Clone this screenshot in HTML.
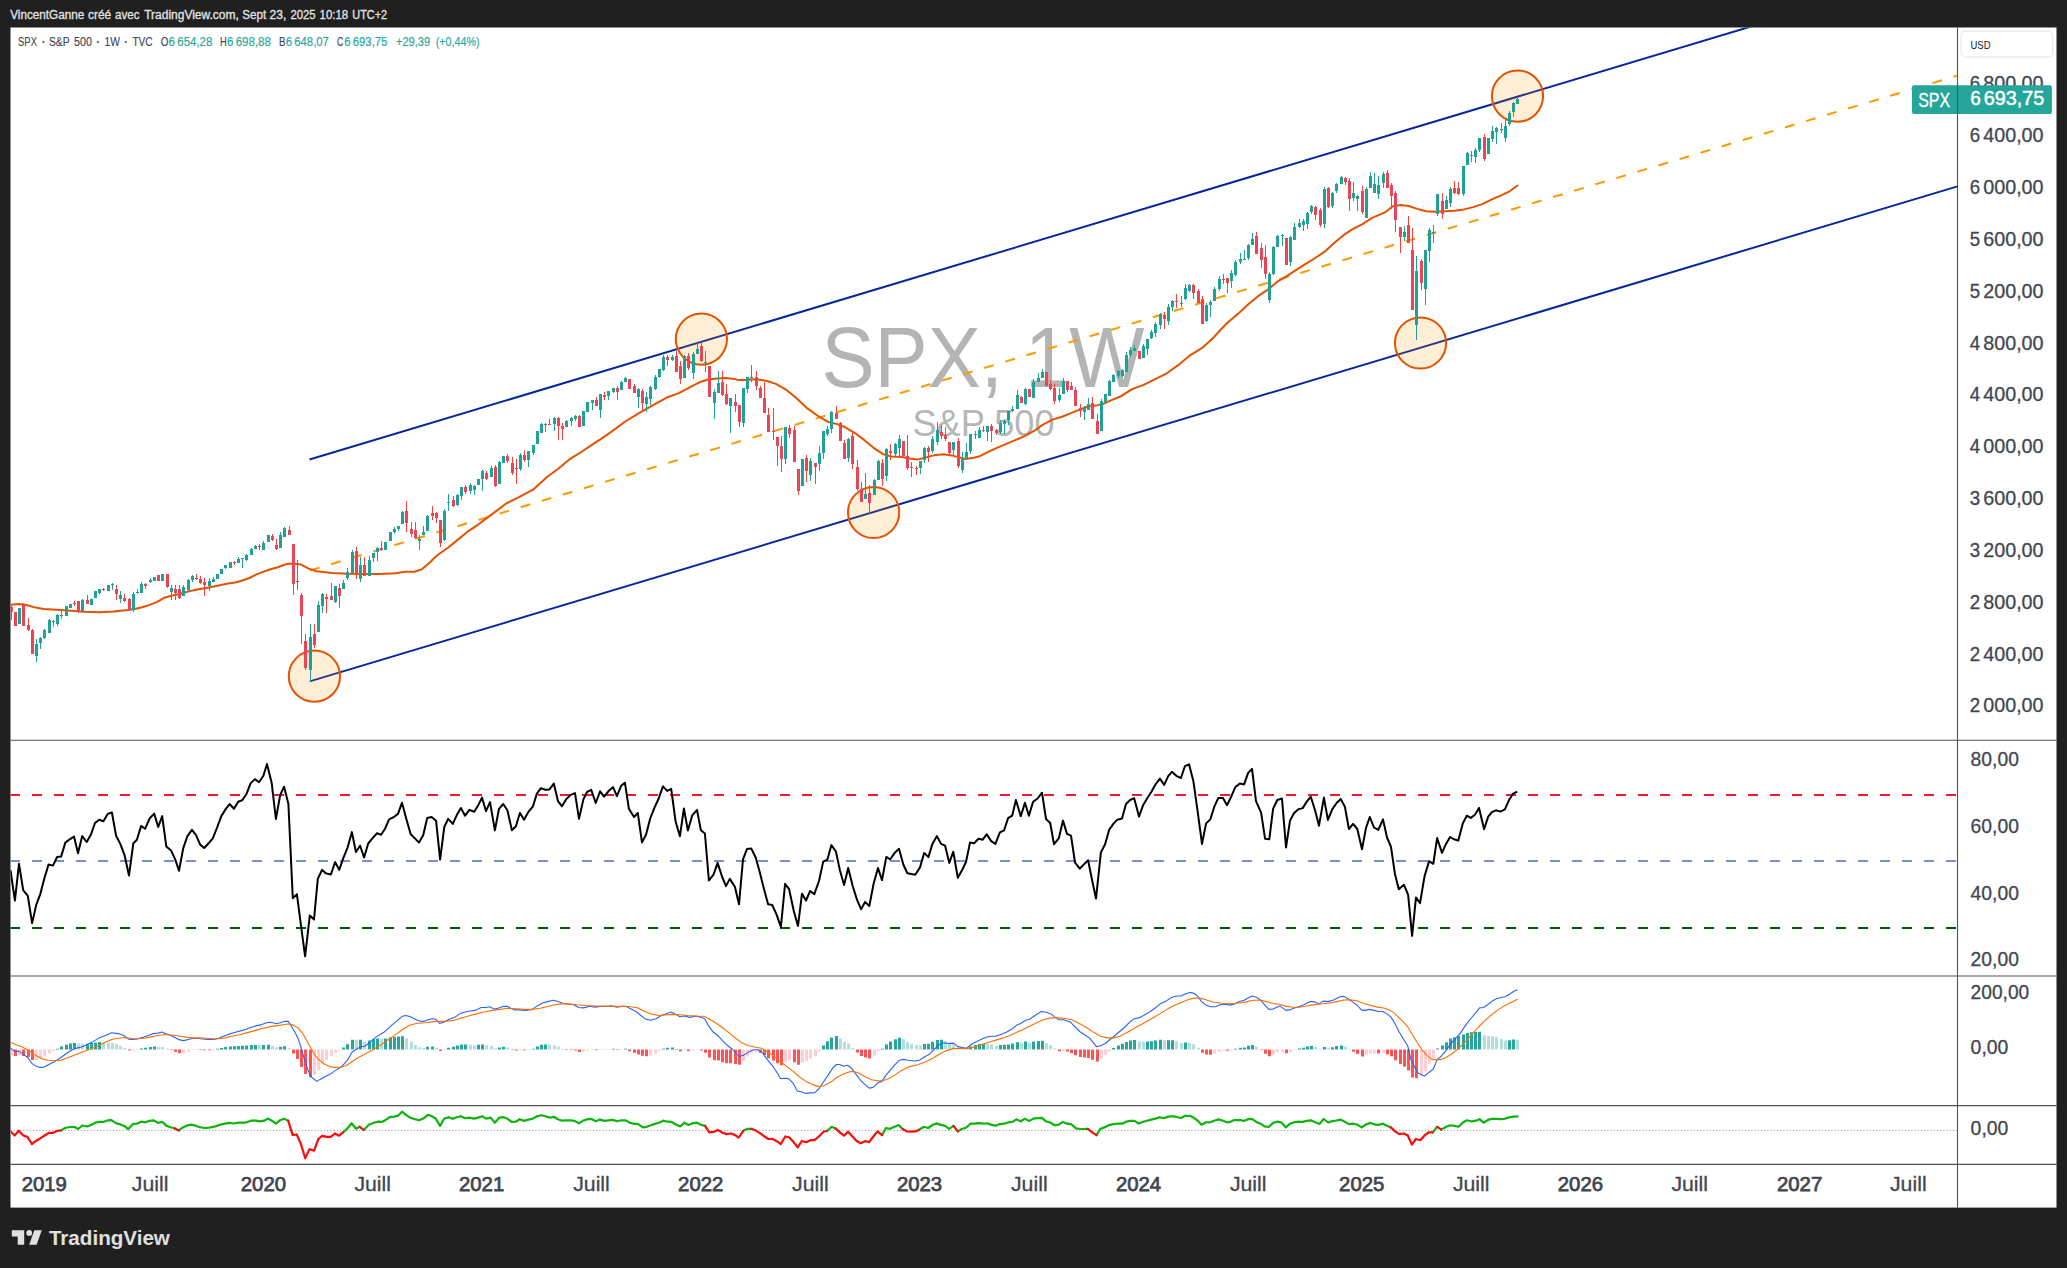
<!DOCTYPE html>
<html lang="fr"><head><meta charset="utf-8"><title>SPX 1W - TradingView</title>
<style>html,body{margin:0;padding:0;background:#202020;}body{width:2067px;height:1268px;overflow:hidden;font-family:"Liberation Sans",Arial,sans-serif}svg{display:block}</style>
</head><body>
<svg width="2067" height="1268" viewBox="0 0 2067 1268" font-family="Liberation Sans, Arial, sans-serif">
<rect width="2067" height="1268" fill="#202020"/>
<rect x="10.5" y="27.5" width="2046.0" height="1180.1" fill="#fff"/>
<text y="18.8" font-size="12" fill="#e4e4e4" stroke="#e4e4e4" stroke-width="0.3"><tspan x="10.2" textLength="74.0" lengthAdjust="spacingAndGlyphs">VincentGanne</tspan><tspan> </tspan><tspan x="88.0" textLength="23.2" lengthAdjust="spacingAndGlyphs">créé</tspan><tspan> </tspan><tspan x="115.1" textLength="24.5" lengthAdjust="spacingAndGlyphs">avec</tspan><tspan> </tspan><tspan x="144.2" textLength="94.6" lengthAdjust="spacingAndGlyphs">TradingView.com,</tspan><tspan> </tspan><tspan x="242.3" textLength="23.8" lengthAdjust="spacingAndGlyphs">Sept</tspan><tspan> </tspan><tspan x="269.6" textLength="16.8" lengthAdjust="spacingAndGlyphs">23,</tspan><tspan> </tspan><tspan x="290.4" textLength="25.0" lengthAdjust="spacingAndGlyphs">2025</tspan><tspan> </tspan><tspan x="319.6" textLength="28.6" lengthAdjust="spacingAndGlyphs">10:18</tspan><tspan> </tspan><tspan x="352.3" textLength="34.8" lengthAdjust="spacingAndGlyphs">UTC+2</tspan></text>
<defs><clipPath id="cp"><rect x="10.5" y="27.5" width="1947.0" height="1137.0"/></clipPath></defs>
<g clip-path="url(#cp)">
<text x="983" y="386.6" font-size="85" fill="#b4b4b4" text-anchor="middle" textLength="323" lengthAdjust="spacingAndGlyphs">SPX, 1W</text>
<text x="983.5" y="436" font-size="37" fill="#b6b6b6" text-anchor="middle" textLength="142" lengthAdjust="spacingAndGlyphs">S&amp;P 500</text>
<line x1="309.5" y1="459.5" x2="1800" y2="11.8" stroke="#05279a" stroke-width="2"/>
<line x1="309.7" y1="681.4" x2="1957.5" y2="186.4" stroke="#05279a" stroke-width="2"/>
<line x1="310" y1="570.5" x2="1957.5" y2="75.6" stroke="#ff9800" stroke-width="2" stroke-dasharray="10 12"/>
<circle cx="314.4" cy="676.2" r="25.6" fill="#ff9800" fill-opacity="0.16" stroke="#e65100" stroke-width="2"/>
<circle cx="701.4" cy="339.1" r="25.6" fill="#ff9800" fill-opacity="0.16" stroke="#e65100" stroke-width="2"/>
<circle cx="873.6" cy="512.5" r="25.6" fill="#ff9800" fill-opacity="0.16" stroke="#e65100" stroke-width="2"/>
<circle cx="1420.5" cy="343.0" r="25.6" fill="#ff9800" fill-opacity="0.16" stroke="#e65100" stroke-width="2"/>
<circle cx="1517.5" cy="96.1" r="25.6" fill="#ff9800" fill-opacity="0.16" stroke="#e65100" stroke-width="2"/>
<polyline points="10.6,604.8 18.5,604.1 25.6,604.8 35.5,607.6 44,609 56.8,609.7 71,610.7 85.2,611.7 99.4,612.2 113.6,611.4 127.8,610 134.9,609 142,607.2 149.1,605.1 157.1,601.8 164.2,597.8 171.3,595.7 178.4,594.3 185.5,592.2 192.6,590.4 199.7,589 206.8,587.9 213.9,586.5 221,585.1 228.1,583.6 235.2,582.5 242.3,580.5 249.4,578 256.5,574.4 263.6,571.6 270.7,569.2 277.8,567.3 284.9,564.5 289.1,563.8 292.9,563.4 300.8,564.4 308.7,568.6 316.5,571.3 332.3,573 348.1,573.8 363.9,574.1 379.6,574.1 395.4,573.3 404.9,571.8 414.3,571.8 422.2,569.1 430.1,562.3 436.4,556 440,553.2 447.9,547.7 455.8,541.4 468.4,531.1 477.9,524.8 490.5,515.4 506.2,503.5 518.9,497.2 533.1,489.7 547.3,476.7 558.3,468.8 569.3,459.4 582,451.5 591.4,445.2 600,439.6 612.6,430.9 625.2,421.5 639.4,412.8 653.6,404.9 666.2,397.8 678.9,393.1 691.5,386.4 700.9,381.7 707.3,379.7 716.7,378.5 726.2,378.1 734.1,378.9 738.8,380.1 745.1,380.1 754.6,379.3 760,379.7 767.9,381.2 775.8,383.9 786.8,390.2 796.3,398.1 807.3,408.4 818.4,416.2 827.8,421.8 837.3,424.1 845.2,427.3 854.6,432.8 864.1,439.9 873.6,447.8 883,454.1 890.9,456.5 902,456.9 909.8,458.5 917.7,459.6 927.9,456.9 935.8,454.9 943.7,454.3 951.5,455.4 959.4,457.4 965.7,459 973.6,457.7 979.9,456.2 987.8,452.2 995.7,448.3 1005.2,444.3 1014.6,440.4 1024.1,436.4 1033.6,431.2 1043,424.6 1052.5,419.6 1062,416.7 1069.8,413.6 1077.7,410.4 1087.9,406.4 1095.8,405.6 1103.7,403.7 1111.5,400.1 1121,396.2 1132.1,389.1 1143.1,385.1 1155.7,378.8 1166.8,373.3 1177.8,365.4 1190.4,355.1 1203,347.3 1212.5,338.6 1222,328.3 1228.3,322 1239.5,312.5 1248.9,303.8 1258.4,295.9 1267.9,289.6 1277.3,281.7 1286.8,276.2 1296.2,269.9 1305.7,263.9 1315.2,258 1324.6,251.7 1334.1,243.1 1343.6,235.2 1353,228.9 1362.5,224.1 1372,217.8 1381.4,213.9 1385,212.3 1392.9,206.3 1400.8,205 1408.7,206 1416.5,208.6 1426,211.3 1435.5,211.8 1444.9,211.3 1454.4,210.7 1463.9,209.4 1473.3,207.1 1482.8,203.9 1492.3,199.2 1501.7,195.2 1509.6,191.3 1517.5,185.5" fill="none" stroke="#e65100" stroke-width="2" stroke-linejoin="round" stroke-linecap="round"/>
<path d="M19.5 608V624M36.5 639V662M40.5 637V649M44.5 629V639M49.5 619V633M53.5 620V627M57.5 614V626M61.5 611V619M66.5 606V616M70.5 604V608M82.5 599V611M91.5 599V605M95.5 591V598M99.5 589V594M108.5 585V591M112.5 583V590M120.5 591V603M133.5 592V612M137.5 589V594M141.5 582V593M150.5 578V583M154.5 577V581M162.5 574V581M171.5 585V600M183.5 585V596M188.5 579V591M192.5 575V582M209.5 578V591M213.5 577V582M217.5 574V579M221.5 569V574M225.5 565V569M230.5 562V568M238.5 557V563M242.5 558V568M246.5 554V561M251.5 548V555M255.5 545V549M263.5 541V550M268.5 535V542M280.5 532V548M284.5 527V537M310.5 624V682M318.5 601V632M322.5 593V613M335.5 586V603M343.5 580V589M347.5 568V580M352.5 550V573M360.5 557V582M369.5 556V576M373.5 553V562M377.5 547V561M385.5 542V550M390.5 532V541M394.5 527V534M398.5 526V531M402.5 511V524M419.5 535V550M423.5 526V535M427.5 515V531M444.5 509V541M448.5 494V511M457.5 494V506M461.5 487V500M470.5 483V494M474.5 485V495M478.5 479V485M482.5 470V491M491.5 466V477M499.5 461V484M503.5 456V463M520.5 453V471M528.5 451V467M533.5 445V455M537.5 431V444M541.5 423V433M545.5 423V432M554.5 417V431M566.5 420V427M571.5 417V426M575.5 415V421M583.5 411V426M587.5 402V412M592.5 400V410M600.5 394V418M608.5 391V400M613.5 388V393M621.5 381V390M625.5 377V382M638.5 388V408M646.5 392V412M650.5 386V405M655.5 375V390M659.5 369V378M663.5 355V371M672.5 355V361M684.5 355V378M693.5 352V379M697.5 343V354M705.5 351V372M714.5 389V419M718.5 371V393M730.5 398V433M743.5 388V427M747.5 377V393M751.5 365V382M785.5 427V464M802.5 459V486M810.5 458V481M819.5 446V471M823.5 431V459M827.5 426V436M831.5 411V433M848.5 438V462M865.5 473V499M874.5 479V495M878.5 460V480M886.5 448V481M895.5 443V456M899.5 435V456M920.5 461V474M924.5 447V463M932.5 436V453M937.5 422V445M953.5 442V456M962.5 452V473M966.5 443V459M970.5 434V454M975.5 431V439M979.5 427V438M987.5 426V441M1000.5 420V434M1004.5 420V434M1008.5 411V425M1012.5 406V412M1017.5 390V409M1025.5 388V405M1033.5 379V398M1038.5 373V382M1042.5 369V378M1059.5 388V402M1063.5 378V394M1084.5 406V420M1088.5 398V410M1101.5 399V431M1105.5 394V402M1109.5 380V396M1113.5 374V382M1118.5 370V378M1122.5 369V377M1126.5 352V372M1130.5 347V357M1134.5 345V351M1143.5 344V358M1147.5 339V355M1151.5 330V339M1155.5 322V337M1160.5 313V329M1168.5 304V325M1172.5 300V311M1181.5 296V307M1185.5 284V300M1189.5 284V292M1206.5 303V322M1210.5 300V317M1214.5 287V301M1219.5 276V291M1231.5 270V288M1235.5 260V276M1240.5 253V264M1244.5 250V260M1248.5 244V260M1252.5 233V245M1269.5 272V303M1273.5 246V275M1277.5 235V247M1282.5 234V246M1290.5 236V266M1294.5 223V240M1299.5 219V228M1303.5 219V231M1307.5 212V229M1311.5 205V214M1324.5 187V228M1332.5 192V208M1336.5 183V193M1341.5 176V184M1353.5 182V201M1357.5 195V211M1366.5 187V218M1370.5 172V188M1374.5 173V193M1378.5 176V199M1383.5 172V188M1404.5 226V241M1416.5 256V340M1425.5 250V305M1429.5 228V262M1433.5 225V243M1437.5 194V216M1446.5 196V209M1450.5 187V207M1463.5 166V196M1467.5 152V165M1471.5 151V162M1475.5 148V163M1479.5 138V152M1488.5 138V154M1492.5 126V142M1496.5 127V144M1501.5 123V133M1505.5 120V142M1509.5 111V126M1513.5 102V117M1517.5 98V104" stroke="#1fa295" stroke-width="1" fill="none"/>
<path d="M11.5 606V620M15.5 612V626M23.5 603V626M28.5 618V631M32.5 629V654M74.5 601V606M78.5 601V613M87.5 595V604M103.5 588V591M116.5 585V600M124.5 594V602M129.5 598V610M145.5 583V589M158.5 575V581M167.5 574V588M175.5 585V600M179.5 585V599M196.5 574V580M200.5 576V584M204.5 578V596M234.5 561V565M259.5 544V550M272.5 534V541M276.5 539V550M289.5 526V535M293.5 544V595M297.5 560V590M301.5 593V644M305.5 634V670M314.5 624V648M326.5 594V613M331.5 583V600M339.5 584V608M356.5 547V579M364.5 557V576M381.5 541V551M406.5 501V532M411.5 522V537M415.5 522V539M432.5 506V520M436.5 512V523M440.5 520V547M453.5 496V507M465.5 485V494M486.5 471V480M495.5 465V487M507.5 454V463M512.5 457V475M516.5 459V484M524.5 450V462M549.5 419V425M558.5 417V440M562.5 423V440M579.5 415V427M596.5 397V406M604.5 392V400M617.5 386V400M629.5 379V389M634.5 384V393M642.5 389V410M667.5 355V366M676.5 351V372M680.5 361V384M688.5 353V370M701.5 342V362M709.5 366V397M722.5 371V396M726.5 384V405M735.5 394V412M739.5 405V427M756.5 371V390M760.5 386V398M764.5 382V413M768.5 408V432M773.5 408V440M777.5 437V466M781.5 436V472M789.5 425V438M794.5 426V462M798.5 469V495M806.5 455V482M815.5 463V484M836.5 406V419M840.5 422V441M844.5 440V459M852.5 432V469M857.5 460V491M861.5 482V502M869.5 485V514M882.5 459V486M890.5 444V460M903.5 441V456M907.5 435V470M911.5 462V477M916.5 466V475M928.5 446V462M941.5 425V439M945.5 427V441M949.5 442V455M958.5 438V468M983.5 426V432M991.5 424V442M996.5 429V435M1021.5 396V403M1029.5 389V397M1046.5 372V386M1050.5 380V390M1054.5 384V404M1067.5 381V392M1071.5 382V390M1075.5 387V406M1080.5 404V417M1092.5 397V419M1097.5 414V434M1139.5 351V359M1164.5 312V329M1176.5 294V308M1193.5 284V299M1198.5 289V303M1202.5 296V324M1223.5 274V284M1227.5 278V293M1256.5 232V254M1261.5 243V268M1265.5 245V279M1286.5 238V265M1315.5 206V220M1320.5 208V227M1328.5 187V208M1345.5 177V185M1349.5 178V211M1362.5 186V214M1387.5 170V188M1391.5 183V209M1395.5 191V232M1400.5 227V253M1408.5 216V243M1412.5 228V310M1421.5 259V290M1442.5 193V219M1454.5 181V194M1458.5 182V195M1484.5 134V161" stroke="#f44336" stroke-width="1" fill="none"/>
<path d="M18 608h3V624h-3zM35 644h3V656h-3zM39 638h3V643h-3zM43 630h3V638h-3zM48 620h3V633h-3zM52 621h3V622h-3zM56 615h3V624h-3zM60 615h3V616h-3zM65 606h3V616h-3zM69 604h3V608h-3zM81 600h3V611h-3zM90 599h3V605h-3zM94 591h3V598h-3zM98 589h3V593h-3zM107 585h3V591h-3zM111 584h3V585h-3zM119 595h3V599h-3zM132 594h3V610h-3zM136 592h3V593h-3zM140 584h3V593h-3zM149 580h3V582h-3zM153 577h3V581h-3zM161 574h3V581h-3zM170 588h3V592h-3zM182 587h3V596h-3zM187 580h3V590h-3zM191 576h3V580h-3zM208 581h3V586h-3zM212 579h3V582h-3zM216 574h3V579h-3zM220 569h3V574h-3zM224 565h3V568h-3zM229 562h3V568h-3zM237 559h3V563h-3zM241 558h3V559h-3zM245 555h3V560h-3zM250 549h3V555h-3zM254 546h3V549h-3zM262 543h3V550h-3zM267 535h3V542h-3zM279 535h3V548h-3zM283 528h3V537h-3zM309 637h3V670h-3zM317 605h3V632h-3zM321 594h3V606h-3zM334 586h3V602h-3zM342 583h3V589h-3zM346 572h3V578h-3zM351 552h3V573h-3zM359 565h3V579h-3zM368 560h3V576h-3zM372 553h3V558h-3zM376 548h3V552h-3zM384 542h3V550h-3zM389 532h3V541h-3zM393 529h3V532h-3zM397 526h3V529h-3zM401 512h3V524h-3zM418 539h3V541h-3zM422 532h3V535h-3zM426 516h3V531h-3zM443 511h3V540h-3zM447 502h3V503h-3zM456 495h3V505h-3zM460 487h3V496h-3zM469 485h3V491h-3zM473 486h3V490h-3zM477 479h3V485h-3zM481 471h3V479h-3zM490 468h3V477h-3zM498 462h3V484h-3zM502 456h3V463h-3zM519 455h3V469h-3zM527 451h3V460h-3zM532 445h3V453h-3zM536 431h3V444h-3zM540 424h3V433h-3zM544 424h3V425h-3zM553 418h3V424h-3zM565 421h3V427h-3zM570 418h3V421h-3zM574 416h3V419h-3zM582 411h3V426h-3zM586 402h3V412h-3zM591 400h3V403h-3zM599 394h3V410h-3zM607 391h3V396h-3zM612 388h3V392h-3zM620 382h3V390h-3zM624 378h3V382h-3zM637 389h3V397h-3zM645 397h3V404h-3zM649 387h3V399h-3zM654 377h3V389h-3zM658 369h3V377h-3zM662 357h3V370h-3zM671 357h3V360h-3zM683 356h3V378h-3zM692 354h3V373h-3zM696 349h3V354h-3zM704 362h3V363h-3zM713 392h3V403h-3zM717 383h3V393h-3zM729 398h3V406h-3zM742 388h3V423h-3zM746 377h3V389h-3zM750 377h3V378h-3zM784 427h3V459h-3zM801 459h3V486h-3zM809 461h3V475h-3zM818 453h3V464h-3zM822 431h3V453h-3zM826 429h3V434h-3zM830 412h3V429h-3zM847 439h3V458h-3zM864 494h3V499h-3zM873 480h3V495h-3zM877 461h3V480h-3zM885 449h3V476h-3zM894 444h3V454h-3zM898 439h3V448h-3zM919 461h3V468h-3zM923 448h3V460h-3zM931 439h3V451h-3zM936 430h3V442h-3zM952 442h3V450h-3zM961 459h3V470h-3zM965 452h3V459h-3zM969 434h3V451h-3zM974 434h3V435h-3zM978 430h3V438h-3zM986 426h3V432h-3zM999 423h3V432h-3zM1003 421h3V424h-3zM1007 411h3V420h-3zM1011 409h3V411h-3zM1016 395h3V409h-3zM1024 389h3V404h-3zM1032 382h3V398h-3zM1037 378h3V382h-3zM1041 372h3V378h-3zM1058 395h3V400h-3zM1062 381h3V394h-3zM1083 408h3V412h-3zM1087 404h3V410h-3zM1100 401h3V431h-3zM1104 394h3V402h-3zM1108 381h3V396h-3zM1112 375h3V382h-3zM1117 371h3V376h-3zM1121 370h3V376h-3zM1125 355h3V372h-3zM1129 350h3V355h-3zM1133 348h3V351h-3zM1142 346h3V358h-3zM1146 339h3V349h-3zM1150 332h3V338h-3zM1154 324h3V333h-3zM1159 314h3V325h-3zM1167 307h3V321h-3zM1171 301h3V307h-3zM1180 303h3V304h-3zM1184 288h3V299h-3zM1188 285h3V291h-3zM1205 305h3V321h-3zM1209 302h3V305h-3zM1213 289h3V301h-3zM1218 279h3V289h-3zM1230 273h3V281h-3zM1234 262h3V275h-3zM1239 259h3V262h-3zM1243 259h3V260h-3zM1247 245h3V258h-3zM1251 239h3V245h-3zM1268 274h3V300h-3zM1272 247h3V274h-3zM1276 236h3V247h-3zM1281 235h3V236h-3zM1289 237h3V262h-3zM1293 227h3V240h-3zM1298 223h3V227h-3zM1302 221h3V225h-3zM1306 213h3V224h-3zM1310 206h3V212h-3zM1323 189h3V224h-3zM1331 193h3V206h-3zM1335 184h3V191h-3zM1340 177h3V184h-3zM1352 193h3V198h-3zM1356 196h3V199h-3zM1365 189h3V218h-3zM1369 176h3V188h-3zM1373 184h3V193h-3zM1377 185h3V194h-3zM1382 174h3V183h-3zM1403 232h3V237h-3zM1415 271h3V325h-3zM1424 250h3V289h-3zM1428 230h3V251h-3zM1432 232h3V233h-3zM1436 194h3V214h-3zM1445 200h3V209h-3zM1449 189h3V203h-3zM1462 166h3V194h-3zM1466 153h3V165h-3zM1470 155h3V156h-3zM1474 150h3V157h-3zM1478 138h3V150h-3zM1487 138h3V154h-3zM1491 131h3V139h-3zM1495 128h3V132h-3zM1500 129h3V130h-3zM1504 126h3V138h-3zM1508 113h3V124h-3zM1512 103h3V112h-3zM1516 99h3V104h-3z" fill="#1fa295"/>
<path d="M10 607h3V612h-3zM14 612h3V626h-3zM22 604h3V626h-3zM27 625h3V630h-3zM31 630h3V654h-3zM73 603h3V604h-3zM77 601h3V612h-3zM86 600h3V604h-3zM102 589h3V590h-3zM115 589h3V594h-3zM123 598h3V601h-3zM128 599h3V610h-3zM144 584h3V586h-3zM157 575h3V581h-3zM166 574h3V587h-3zM174 589h3V593h-3zM178 589h3V598h-3zM195 578h3V579h-3zM199 579h3V583h-3zM203 582h3V585h-3zM233 562h3V563h-3zM258 546h3V547h-3zM271 536h3V540h-3zM275 545h3V549h-3zM288 530h3V535h-3zM292 544h3V584h-3zM296 581h3V582h-3zM300 595h3V616h-3zM304 641h3V668h-3zM313 634h3V645h-3zM325 597h3V599h-3zM330 596h3V600h-3zM338 588h3V596h-3zM355 551h3V574h-3zM363 565h3V576h-3zM380 548h3V550h-3zM405 511h3V523h-3zM410 529h3V534h-3zM414 530h3V538h-3zM431 513h3V516h-3zM435 513h3V518h-3zM439 520h3V543h-3zM452 500h3V506h-3zM464 487h3V492h-3zM485 473h3V479h-3zM494 467h3V486h-3zM506 456h3V461h-3zM511 463h3V473h-3zM515 468h3V469h-3zM523 455h3V460h-3zM548 424h3V425h-3zM557 418h3V426h-3zM561 426h3V429h-3zM578 416h3V427h-3zM595 400h3V406h-3zM603 395h3V397h-3zM616 388h3V392h-3zM628 379h3V389h-3zM633 386h3V393h-3zM641 391h3V403h-3zM666 357h3V360h-3zM675 356h3V372h-3zM679 366h3V379h-3zM687 356h3V368h-3zM700 346h3V361h-3zM708 366h3V397h-3zM721 382h3V395h-3zM725 394h3V404h-3zM734 402h3V406h-3zM738 405h3V422h-3zM755 377h3V386h-3zM759 388h3V398h-3zM763 398h3V413h-3zM767 415h3V432h-3zM772 431h3V432h-3zM776 437h3V446h-3zM780 446h3V459h-3zM788 428h3V434h-3zM793 430h3V462h-3zM797 469h3V491h-3zM805 458h3V471h-3zM814 463h3V467h-3zM835 413h3V419h-3zM839 423h3V441h-3zM843 443h3V459h-3zM851 436h3V464h-3zM856 467h3V489h-3zM860 489h3V502h-3zM868 493h3V503h-3zM881 463h3V479h-3zM889 451h3V453h-3zM902 441h3V456h-3zM906 456h3V468h-3zM910 467h3V468h-3zM915 468h3V469h-3zM927 448h3V452h-3zM940 432h3V436h-3zM944 435h3V439h-3zM948 442h3V453h-3zM957 441h3V466h-3zM982 430h3V431h-3zM990 426h3V431h-3zM995 430h3V433h-3zM1020 397h3V403h-3zM1028 389h3V397h-3zM1045 372h3V386h-3zM1049 384h3V389h-3zM1053 388h3V401h-3zM1066 381h3V390h-3zM1070 386h3V390h-3zM1074 390h3V406h-3zM1079 408h3V411h-3zM1091 403h3V419h-3zM1096 421h3V434h-3zM1138 351h3V359h-3zM1163 315h3V319h-3zM1175 301h3V302h-3zM1192 285h3V293h-3zM1197 291h3V303h-3zM1201 299h3V324h-3zM1222 279h3V280h-3zM1226 278h3V283h-3zM1255 236h3V254h-3zM1260 248h3V260h-3zM1264 257h3V274h-3zM1285 238h3V265h-3zM1314 207h3V215h-3zM1319 210h3V225h-3zM1327 188h3V207h-3zM1344 178h3V182h-3zM1348 181h3V199h-3zM1361 191h3V212h-3zM1386 173h3V188h-3zM1390 185h3V196h-3zM1394 193h3V220h-3zM1399 227h3V237h-3zM1407 225h3V243h-3zM1411 250h3V310h-3zM1420 261h3V283h-3zM1441 201h3V214h-3zM1453 188h3V193h-3zM1457 188h3V194h-3zM1483 137h3V159h-3z" fill="#ea4556"/>
<line x1="10.5" y1="795" x2="1957.5" y2="795" stroke="#e81a35" stroke-width="2" stroke-dasharray="10 12" stroke-dashoffset="0.5"/>
<line x1="10.5" y1="861" x2="1957.5" y2="861" stroke="#7b8fd0" stroke-width="2" stroke-dasharray="10 12" stroke-dashoffset="0.5"/>
<line x1="10.5" y1="928" x2="1957.5" y2="928" stroke="#07560d" stroke-width="2" stroke-dasharray="10 12" stroke-dashoffset="0.5"/>
<polyline points="10.5,870.2 14.9,900.6 19,863.8 23.2,890.1 27.8,895.9 32.1,923.1 36.3,904.6 40.3,894.1 44.4,878.3 48.6,864.4 53,865.6 57.1,856.9 61.1,856.6 65.3,842.6 69.7,839.3 74,836.6 78,853.3 82.2,836.1 86.7,842 91.1,834.2 95,823 99.2,819.7 103.4,821.2 107.7,813.9 111.9,812.5 116.1,835.7 120.3,843.9 124.6,855.3 129,875.6 133.3,843.5 136.9,839.7 141.1,825.9 145.1,828.8 149.6,818.5 154.2,813.6 158.2,827 162.2,816.1 166.3,846.6 171.1,850.6 175,858.9 179,870.7 183.2,848.4 187.4,836.2 191.9,829.9 195.9,834.8 200.3,844.8 204.2,848 208.6,843.3 212.8,838.4 217.1,827.5 221.3,816.1 225.5,809.4 229.6,804 234,808.8 238.2,801.8 242.2,800.3 246.3,794.3 250.7,783.1 254.9,779.1 259,782.2 263.4,775.8 267,764 271.7,783.1 275.9,819 280.2,794.9 284.1,786.7 288.4,804 292.8,898.3 296.9,894.1 301.1,926.4 305.1,956.3 309.8,915.5 314,919.5 317.8,878.9 322,869.8 326.1,873.4 330.9,874.5 335.1,862 339.2,869.8 343.2,858.4 347.6,847.5 351.9,832.1 355.9,852 360.1,845.7 364.1,857.5 368.2,843.5 372.6,838.1 377,833.3 381.1,834.8 384.9,829 389.1,819.4 393.6,817.2 398,813.9 402,802.7 406.2,818.5 410.7,834.2 414.9,838.4 419,842.6 423.2,835.2 427.2,817.9 431.6,817 436.1,820.8 440.1,859.6 444.3,827 448.2,818.8 452.8,823.9 456.9,814.8 460.9,808.1 465.1,815.7 469.3,809.9 474.2,811.8 478.4,804.9 482,797.6 486,811.2 490,802.1 494.9,830.3 499,808.8 503.2,804 507.4,810.3 511.9,830.3 515.9,826.3 519.9,813 524.1,819.7 528.2,812.1 532.8,806.7 536.9,793.6 540.9,788.2 545.3,789.8 549.5,789.4 553.8,783.6 558,801.2 562,806.3 566.3,799.1 570.7,794.9 575,793.1 579,818.8 583.4,799.4 587.2,791.8 591.2,789.8 595.7,803 600.1,791.3 604.1,796.7 608.4,791.3 613.1,787.1 616.9,796.2 621.1,785.8 624.9,782.7 628.9,808.8 634,817 637.8,813 642,842.4 646,834.8 650.2,818.5 654.5,807.6 658.7,798.5 662.9,786.4 667.2,790.9 671.2,788.9 675.6,821.5 679.9,836.2 683.9,808.5 687.9,830.6 692.2,815.4 697,809.9 700.9,830.3 704.9,833.5 708.9,880.5 713.5,874.7 717.6,862.9 722,876.5 726,886.1 729.8,878.9 734.9,886.8 739,904.3 743,859.3 747,848.9 751.2,848.4 755.7,857.5 759.7,872 763.9,888.7 768.1,904.3 772.2,905 776.4,914.1 780.9,926.9 785.1,883.8 789.1,889.2 793.8,911 798,926 802,893.7 806,900.6 810.1,891 814.3,894.1 819,881 823.2,861.6 827.4,859.6 831.4,845.1 835.9,851.5 839.9,870.2 844.1,885 848.2,868 852.6,885.6 856.9,899.5 861.1,909.2 865.1,901.9 869.3,906.1 873.6,883.8 878,868 882,880.1 886.3,856.9 890.3,859.3 894.7,852.9 899,848.8 903.4,864.7 907.4,873.2 911.5,874.1 915.3,874.7 920.1,867.1 924.2,852.9 928.4,857.1 932.4,843.9 936.9,836.1 941.1,843.9 945.1,845.7 949.3,862.9 953.3,851.7 957.8,877.8 962,870.2 966,862 970,842.6 974.1,843.3 978.5,838.8 982.7,839.7 986.8,834.2 991.2,841.1 995.4,843.9 999.9,832.4 1004.1,830.3 1008.1,818.1 1012.2,815.7 1015.9,800 1020.8,816.3 1024.9,802.7 1028.9,815.7 1033.1,801.8 1037.6,798.5 1042,792.7 1046,819 1050.2,823 1054,844.2 1058.9,838.1 1063,820.6 1067,833.9 1071,835.7 1075,862.5 1079.7,868.7 1083.9,864.4 1088.1,860.2 1092.1,880.1 1096,898.6 1100.9,852.4 1105.1,844.2 1109.1,829.9 1113.3,823.9 1117.1,819.9 1122,818.5 1126,804 1130.1,800 1134.1,798.1 1139,816.6 1143.2,804.9 1147.4,798 1151.4,791.8 1155.5,784.5 1159.9,778.6 1164.2,784.9 1168.2,776.2 1171.9,771.8 1176.8,776.2 1180.9,778 1184.9,766.2 1189.1,764.4 1193.4,781.3 1197.6,811.2 1202,843.9 1206.1,823.4 1210.3,819.4 1214.3,806.7 1218.3,798 1223,798 1227,805.2 1231.4,796.2 1235.3,787.1 1239.9,783.5 1244.1,784.4 1248,773.1 1252,768.9 1256,801.2 1261.1,812.7 1265.1,838.8 1269.3,839.3 1273.1,808.8 1277.3,800 1282,798.5 1286,847.5 1290,820.6 1294.1,813 1298.1,809.4 1302.7,808.1 1306.8,801.6 1310.8,796.7 1315.2,810.7 1319,825.7 1323.9,797.6 1327.9,819.9 1332.2,809.4 1336.6,803 1340.8,799.1 1344.9,806.7 1348.9,829 1353.1,823.9 1357.3,829 1362,849.3 1366,827.9 1369.8,817 1374,827.5 1378.3,829.9 1383,819.4 1387,837.5 1391,846.9 1395,874.3 1398.8,889.2 1403.9,884.7 1408.1,894.6 1412.1,935.8 1416,897.4 1420,903.2 1424.6,876 1429.1,861.1 1433.3,863.8 1437.1,838.1 1442,852.9 1446,843.9 1450.1,837 1454.1,839.3 1458.3,840.6 1462.8,823.4 1466.8,815.7 1470.8,817.9 1475,814.8 1479,807.9 1484.1,829.3 1488.2,816.6 1491.9,812.1 1495.9,810.3 1500.4,811.6 1504.9,809.4 1508.9,800.3 1513.1,793.6 1517.3,791.6" fill="none" stroke="#000" stroke-width="2" stroke-linejoin="round"/>
<path d="M56 1048.7h3V1049.4h-3zM60 1046.5h3V1049.4h-3zM65 1044.7h3V1049.4h-3zM69 1043.6h3V1049.4h-3zM73 1043.1h3V1049.4h-3zM86 1043.7h3V1049.4h-3zM90 1043.1h3V1049.4h-3zM94 1042.5h3V1049.4h-3zM98 1041.9h3V1049.4h-3zM140 1048.6h3V1049.4h-3zM144 1047.8h3V1049.4h-3zM149 1047.1h3V1049.4h-3zM153 1046.6h3V1049.4h-3zM216 1048.8h3V1049.4h-3zM220 1048.1h3V1049.4h-3zM224 1047.1h3V1049.4h-3zM229 1046.6h3V1049.4h-3zM233 1046.2h3V1049.4h-3zM237 1045.9h3V1049.4h-3zM241 1045.8h3V1049.4h-3zM245 1045.5h3V1049.4h-3zM250 1045.1h3V1049.4h-3zM254 1044.9h3V1049.4h-3zM262 1045h3V1049.4h-3zM267 1044.7h3V1049.4h-3zM279 1046.7h3V1049.4h-3zM283 1046.3h3V1049.4h-3zM342 1047.5h3V1049.4h-3zM346 1044.3h3V1049.4h-3zM351 1039.8h3V1049.4h-3zM359 1039.7h3V1049.4h-3zM368 1040.5h3V1049.4h-3zM372 1039.2h3V1049.4h-3zM376 1038.5h3V1049.4h-3zM384 1038.4h3V1049.4h-3zM389 1037.6h3V1049.4h-3zM393 1036.9h3V1049.4h-3zM397 1036.5h3V1049.4h-3zM401 1036.2h3V1049.4h-3zM426 1046.8h3V1049.4h-3zM431 1046.4h3V1049.4h-3zM447 1047.8h3V1049.4h-3zM452 1046.8h3V1049.4h-3zM456 1045.6h3V1049.4h-3zM460 1044.5h3V1049.4h-3zM464 1044.5h3V1049.4h-3zM477 1044.7h3V1049.4h-3zM481 1044.5h3V1049.4h-3zM498 1047.5h3V1049.4h-3zM502 1046.8h3V1049.4h-3zM532 1048.8h3V1049.4h-3zM536 1046.4h3V1049.4h-3zM540 1044.8h3V1049.4h-3zM544 1044.6h3V1049.4h-3zM612 1048.8h3V1049.4h-3zM624 1048.8h3V1049.4h-3zM662 1048.8h3V1049.4h-3zM666 1047.8h3V1049.4h-3zM671 1047.4h3V1049.4h-3zM822 1045.5h3V1049.4h-3zM826 1041.2h3V1049.4h-3zM830 1037.5h3V1049.4h-3zM835 1036.1h3V1049.4h-3zM881 1048.8h3V1049.4h-3zM885 1044.5h3V1049.4h-3zM889 1041.5h3V1049.4h-3zM894 1039.2h3V1049.4h-3zM898 1037.7h3V1049.4h-3zM923 1043.9h3V1049.4h-3zM927 1043.8h3V1049.4h-3zM931 1041.8h3V1049.4h-3zM936 1040.1h3V1049.4h-3zM940 1039.8h3V1049.4h-3zM969 1046.5h3V1049.4h-3zM974 1044.9h3V1049.4h-3zM978 1044.1h3V1049.4h-3zM982 1043.7h3V1049.4h-3zM999 1045.1h3V1049.4h-3zM1003 1044.8h3V1049.4h-3zM1007 1044.4h3V1049.4h-3zM1011 1043.5h3V1049.4h-3zM1016 1042.2h3V1049.4h-3zM1024 1041.5h3V1049.4h-3zM1032 1041.6h3V1049.4h-3zM1037 1040.9h3V1049.4h-3zM1041 1040.8h3V1049.4h-3zM1112 1047.9h3V1049.4h-3zM1117 1045.5h3V1049.4h-3zM1121 1043.7h3V1049.4h-3zM1125 1041.9h3V1049.4h-3zM1129 1040.4h3V1049.4h-3zM1133 1040h3V1049.4h-3zM1146 1041.6h3V1049.4h-3zM1150 1041.3h3V1049.4h-3zM1154 1040.6h3V1049.4h-3zM1159 1039.8h3V1049.4h-3zM1167 1040.2h3V1049.4h-3zM1171 1040.2h3V1049.4h-3zM1184 1042.5h3V1049.4h-3zM1234 1048.8h3V1049.4h-3zM1239 1047.8h3V1049.4h-3zM1243 1047.4h3V1049.4h-3zM1247 1045.7h3V1049.4h-3zM1251 1045h3V1049.4h-3zM1298 1048.6h3V1049.4h-3zM1302 1047.7h3V1049.4h-3zM1306 1046.4h3V1049.4h-3zM1310 1045.9h3V1049.4h-3zM1323 1047h3V1049.4h-3zM1331 1047.2h3V1049.4h-3zM1335 1046h3V1049.4h-3zM1340 1045.4h3V1049.4h-3zM1436 1048.5h3V1049.4h-3zM1441 1045.5h3V1049.4h-3zM1445 1042.2h3V1049.4h-3zM1449 1038.5h3V1049.4h-3zM1453 1037.3h3V1049.4h-3zM1457 1036h3V1049.4h-3zM1462 1034.4h3V1049.4h-3zM1466 1032.9h3V1049.4h-3zM1470 1032.3h3V1049.4h-3zM1474 1032.1h3V1049.4h-3zM1478 1031.7h3V1049.4h-3zM1508 1040.3h3V1049.4h-3zM1512 1039.6h3V1049.4h-3z" fill="#26a69a"/>
<path d="M77 1043.6h3V1049.4h-3zM81 1043.8h3V1049.4h-3zM102 1042.5h3V1049.4h-3zM107 1042.7h3V1049.4h-3zM111 1042.8h3V1049.4h-3zM115 1044.2h3V1049.4h-3zM119 1045.9h3V1049.4h-3zM123 1047.9h3V1049.4h-3zM157 1046.9h3V1049.4h-3zM161 1047h3V1049.4h-3zM166 1048.8h3V1049.4h-3zM258 1045.1h3V1049.4h-3zM271 1045.7h3V1049.4h-3zM275 1047.3h3V1049.4h-3zM288 1048h3V1049.4h-3zM355 1039.8h3V1049.4h-3zM363 1041.4h3V1049.4h-3zM380 1038.6h3V1049.4h-3zM405 1038.3h3V1049.4h-3zM410 1041.8h3V1049.4h-3zM414 1044.9h3V1049.4h-3zM418 1047.3h3V1049.4h-3zM422 1048h3V1049.4h-3zM435 1047.7h3V1049.4h-3zM469 1044.8h3V1049.4h-3zM473 1045.4h3V1049.4h-3zM485 1045.2h3V1049.4h-3zM490 1046h3V1049.4h-3zM494 1048.2h3V1049.4h-3zM506 1047.4h3V1049.4h-3zM548 1044.6h3V1049.4h-3zM553 1045.2h3V1049.4h-3zM557 1046.8h3V1049.4h-3zM561 1048.7h3V1049.4h-3zM839 1038.6h3V1049.4h-3zM843 1041.8h3V1049.4h-3zM847 1043.5h3V1049.4h-3zM851 1048h3V1049.4h-3zM902 1039.3h3V1049.4h-3zM906 1041.9h3V1049.4h-3zM910 1043.9h3V1049.4h-3zM915 1045h3V1049.4h-3zM919 1045.2h3V1049.4h-3zM944 1041.3h3V1049.4h-3zM948 1043.1h3V1049.4h-3zM952 1044.2h3V1049.4h-3zM957 1047.8h3V1049.4h-3zM961 1048.5h3V1049.4h-3zM965 1048.8h3V1049.4h-3zM986 1043.8h3V1049.4h-3zM990 1044.3h3V1049.4h-3zM995 1045.5h3V1049.4h-3zM1020 1042.4h3V1049.4h-3zM1028 1042.5h3V1049.4h-3zM1045 1043h3V1049.4h-3zM1049 1045.2h3V1049.4h-3zM1053 1048.5h3V1049.4h-3zM1138 1041.5h3V1049.4h-3zM1142 1041.7h3V1049.4h-3zM1163 1040.3h3V1049.4h-3zM1175 1041.2h3V1049.4h-3zM1180 1042.9h3V1049.4h-3zM1188 1042.6h3V1049.4h-3zM1192 1044.2h3V1049.4h-3zM1197 1047.8h3V1049.4h-3zM1255 1046.7h3V1049.4h-3zM1314 1047.1h3V1049.4h-3zM1319 1048.6h3V1049.4h-3zM1327 1047.7h3V1049.4h-3zM1344 1046.6h3V1049.4h-3zM1348 1048.8h3V1049.4h-3zM1483 1035.2h3V1049.4h-3zM1487 1036h3V1049.4h-3zM1491 1036.3h3V1049.4h-3zM1495 1037.3h3V1049.4h-3zM1500 1038.9h3V1049.4h-3zM1504 1040.6h3V1049.4h-3zM1516 1039.8h3V1049.4h-3z" fill="#b2dfdb"/>
<path d="M14 1049.4h3V1056h-3zM22 1049.4h3V1056h-3zM27 1049.4h3V1057.1h-3zM31 1049.4h3V1060h-3zM128 1049.4h3V1050.4h-3zM170 1049.4h3V1050h-3zM174 1049.4h3V1051.7h-3zM178 1049.4h3V1053.2h-3zM199 1049.4h3V1050.1h-3zM203 1049.4h3V1050.3h-3zM208 1049.4h3V1050.3h-3zM292 1049.4h3V1053.4h-3zM296 1049.4h3V1059h-3zM300 1049.4h3V1067h-3zM304 1049.4h3V1074.1h-3zM309 1049.4h3V1077.2h-3zM439 1049.4h3V1051.1h-3zM511 1049.4h3V1050h-3zM515 1049.4h3V1050.5h-3zM523 1049.4h3V1050.2h-3zM565 1049.4h3V1050h-3zM570 1049.4h3V1050h-3zM574 1049.4h3V1050.4h-3zM578 1049.4h3V1051.9h-3zM595 1049.4h3V1050.2h-3zM616 1049.4h3V1050.1h-3zM628 1049.4h3V1051.2h-3zM633 1049.4h3V1052.7h-3zM637 1049.4h3V1054.5h-3zM641 1049.4h3V1055.8h-3zM645 1049.4h3V1056.2h-3zM675 1049.4h3V1050h-3zM679 1049.4h3V1051.3h-3zM687 1049.4h3V1051h-3zM700 1049.4h3V1050.6h-3zM704 1049.4h3V1052.7h-3zM708 1049.4h3V1057.6h-3zM713 1049.4h3V1060.2h-3zM717 1049.4h3V1060.6h-3zM721 1049.4h3V1062.2h-3zM725 1049.4h3V1063.2h-3zM729 1049.4h3V1063.3h-3zM734 1049.4h3V1063.9h-3zM738 1049.4h3V1064.8h-3zM759 1049.4h3V1052.8h-3zM763 1049.4h3V1055.1h-3zM767 1049.4h3V1058.3h-3zM772 1049.4h3V1060.5h-3zM776 1049.4h3V1063.3h-3zM780 1049.4h3V1065.3h-3zM793 1049.4h3V1062.2h-3zM797 1049.4h3V1064.8h-3zM856 1049.4h3V1052.6h-3zM860 1049.4h3V1056.1h-3zM864 1049.4h3V1057.5h-3zM868 1049.4h3V1058.5h-3zM1058 1049.4h3V1051.2h-3zM1066 1049.4h3V1051.4h-3zM1070 1049.4h3V1053.1h-3zM1074 1049.4h3V1055.2h-3zM1079 1049.4h3V1057.1h-3zM1083 1049.4h3V1057.5h-3zM1087 1049.4h3V1057.9h-3zM1091 1049.4h3V1059.7h-3zM1096 1049.4h3V1061.6h-3zM1201 1049.4h3V1052.7h-3zM1205 1049.4h3V1054.6h-3zM1209 1049.4h3V1054.8h-3zM1226 1049.4h3V1050.7h-3zM1260 1049.4h3V1050h-3zM1264 1049.4h3V1053.7h-3zM1268 1049.4h3V1056.2h-3zM1285 1049.4h3V1053.2h-3zM1352 1049.4h3V1051.7h-3zM1356 1049.4h3V1054.1h-3zM1361 1049.4h3V1056.5h-3zM1377 1049.4h3V1053.6h-3zM1386 1049.4h3V1054.3h-3zM1390 1049.4h3V1056.2h-3zM1394 1049.4h3V1060.2h-3zM1399 1049.4h3V1064.1h-3zM1403 1049.4h3V1066.7h-3zM1407 1049.4h3V1070.4h-3zM1411 1049.4h3V1077.4h-3zM1415 1049.4h3V1078.3h-3z" fill="#ff5252"/>
<path d="M10 1049.4h3V1055.4h-3zM18 1049.4h3V1055h-3zM35 1049.4h3V1059.9h-3zM39 1049.4h3V1058.5h-3zM43 1049.4h3V1056.4h-3zM48 1049.4h3V1053.4h-3zM52 1049.4h3V1051h-3zM132 1049.4h3V1050.3h-3zM136 1049.4h3V1050h-3zM182 1049.4h3V1053h-3zM187 1049.4h3V1051.4h-3zM191 1049.4h3V1050.1h-3zM195 1049.4h3V1050h-3zM212 1049.4h3V1050.2h-3zM313 1049.4h3V1074.8h-3zM317 1049.4h3V1070.3h-3zM321 1049.4h3V1064.6h-3zM325 1049.4h3V1059.8h-3zM330 1049.4h3V1056.1h-3zM334 1049.4h3V1052.5h-3zM338 1049.4h3V1050.2h-3zM443 1049.4h3V1050h-3zM519 1049.4h3V1050.2h-3zM527 1049.4h3V1050h-3zM582 1049.4h3V1051.8h-3zM586 1049.4h3V1050.5h-3zM591 1049.4h3V1050.1h-3zM599 1049.4h3V1050h-3zM603 1049.4h3V1050h-3zM607 1049.4h3V1050h-3zM620 1049.4h3V1050h-3zM649 1049.4h3V1055.7h-3zM654 1049.4h3V1053.5h-3zM658 1049.4h3V1050.6h-3zM683 1049.4h3V1050.2h-3zM692 1049.4h3V1050.2h-3zM696 1049.4h3V1050h-3zM742 1049.4h3V1060.8h-3zM746 1049.4h3V1056.3h-3zM750 1049.4h3V1053.4h-3zM755 1049.4h3V1052h-3zM784 1049.4h3V1062h-3zM788 1049.4h3V1060.5h-3zM801 1049.4h3V1062.6h-3zM805 1049.4h3V1060.9h-3zM809 1049.4h3V1058.4h-3zM814 1049.4h3V1056.3h-3zM818 1049.4h3V1051.1h-3zM873 1049.4h3V1055.7h-3zM877 1049.4h3V1051.2h-3zM1062 1049.4h3V1051h-3zM1100 1049.4h3V1058.4h-3zM1104 1049.4h3V1055.1h-3zM1108 1049.4h3V1051.3h-3zM1213 1049.4h3V1053.7h-3zM1218 1049.4h3V1051.7h-3zM1222 1049.4h3V1050.6h-3zM1230 1049.4h3V1050.5h-3zM1272 1049.4h3V1054.4h-3zM1276 1049.4h3V1051.9h-3zM1281 1049.4h3V1051.9h-3zM1289 1049.4h3V1051.9h-3zM1293 1049.4h3V1050h-3zM1365 1049.4h3V1055.3h-3zM1369 1049.4h3V1053.6h-3zM1373 1049.4h3V1053.5h-3zM1382 1049.4h3V1053.1h-3zM1420 1049.4h3V1075.5h-3zM1424 1049.4h3V1071.2h-3zM1428 1049.4h3V1063.8h-3zM1432 1049.4h3V1057.8h-3z" fill="#ffcdd2"/>
<polyline points="10.4,1047.9 14.4,1051.1 19.2,1051.4 23.9,1054.6 27.9,1057.8 31.9,1063.4 35.9,1066.1 39.9,1067.4 43.9,1067.1 47.9,1065 54.3,1061.8 60.7,1057.8 67,1053 73.4,1049 79.8,1047.4 86.2,1045 92.6,1041.9 99,1037.9 105.4,1035.5 111.7,1032.8 118.1,1033.6 124.5,1035.8 128.5,1039.1 132.5,1039.5 137.3,1039 143.7,1037.1 148.5,1035.5 153.3,1033.6 158,1033.1 162,1032 166,1033.9 170.8,1035.2 175.6,1037.9 179.6,1039.9 183.6,1040.6 188.4,1039.5 193.2,1038.3 198,1038.3 202.7,1039 207.5,1039.5 213.9,1039.5 218.7,1038.3 223.5,1036.3 229.9,1033.9 236.3,1032 244.3,1029.9 250.6,1027.5 255.4,1025.9 261.8,1024.6 266.6,1022.7 269.8,1022.2 273,1022.7 276.2,1023.8 280.2,1022.7 284.2,1021.4 288.2,1021.4 291.3,1025.9 295.3,1033.1 298.5,1039.5 301.7,1049.8 304.9,1061 308.1,1070.6 311.3,1077 316.9,1081.4 320,1079.4 324.8,1076.7 330.4,1074.1 335.2,1070.6 340,1067.7 343.9,1064.2 347.9,1059.4 351.9,1052.2 356.7,1049 360.7,1046.6 364.7,1046.3 369.5,1042.7 375.9,1037.1 383.9,1032.3 391.8,1025.1 398.2,1019.8 402.2,1016.3 406.2,1015.5 411,1017.1 415.8,1019.5 419.8,1021.1 423.8,1021.4 428.6,1019.5 432.5,1018.7 435.7,1019.2 439.7,1023.5 444.5,1021.9 449.3,1019.2 454.1,1017.6 460.5,1013.4 465.3,1012 470.1,1011 474.9,1010.4 481.2,1007.5 486,1007.5 490,1006.7 494,1009.1 498,1008.3 502.8,1006.4 507.6,1006.3 510.8,1008.3 514.8,1009.9 519.6,1009.9 525.9,1010.4 532.3,1009.4 537.1,1005.9 541.9,1003.2 546.7,1001.9 553.1,1000.3 557.9,1001.5 562.7,1003.2 569,1004.3 573.8,1004.8 578.6,1007.5 583.4,1007.9 589.8,1006.3 594.6,1007.1 601,1006.4 607.4,1006.4 612.1,1005.9 616.9,1007.2 621.7,1006.4 625.7,1006.3 629.7,1008.3 636.1,1011.5 640,1014.7 644.8,1018.7 650.4,1020.3 656,1018.7 662.3,1015 667.1,1013.4 671.1,1012 675.1,1013.9 679.9,1016.8 684.7,1016 689.5,1017.4 695.9,1016 700.7,1017.1 704.7,1018.7 708.6,1025.9 713.4,1032.3 718.2,1035.8 723,1041.1 727.8,1045.8 732.6,1049.5 735.8,1053 739,1056.5 743.8,1055.1 748.6,1051.9 753.3,1049.8 758.1,1049.8 762.9,1053.4 767.7,1060.2 772.5,1065.8 777.3,1073 780.5,1078.6 784.5,1078.3 788.5,1078.6 793.3,1083.4 797.2,1091 801.2,1091.8 806,1093.4 810.8,1092.9 814.8,1092.6 818.8,1089 823.6,1081.8 828.4,1074.6 833.2,1067.4 836.4,1064.5 839.6,1064.5 843.5,1066.3 847.5,1065.3 851.5,1068.2 856.3,1074.6 861.1,1081 865.1,1084.6 869.1,1088.2 873.1,1087.4 877.9,1082.6 881.9,1081.4 885.8,1075.4 890.6,1069.8 895.4,1064.2 899.4,1060.2 903.4,1059.4 908.2,1060.2 914.6,1061 919.4,1060.2 924.2,1057 929,1054.6 933.7,1049.8 938.5,1045 943.3,1042.7 948.1,1043.5 953.7,1043.1 957.7,1046.6 966.4,1048.2 972.8,1043.5 979.2,1040.3 985.5,1037.5 990.3,1036.3 995.9,1036.3 1001.5,1034.2 1006.3,1032.3 1011.9,1029.1 1016.7,1025.1 1020.7,1023.5 1025.5,1020.3 1029.4,1019.5 1035,1015.5 1041.4,1011.5 1046.2,1012.3 1051,1013.9 1055,1017.1 1059,1019.8 1063.8,1019.8 1070.2,1021.9 1074.9,1026.7 1079.7,1031.5 1084.5,1034.7 1089.3,1037.9 1093.3,1042.7 1096.5,1046.6 1100.5,1045.8 1105.3,1043.5 1110.1,1039.5 1114.9,1035.5 1119.6,1031.5 1124.4,1027.5 1129.2,1022.7 1134,1018.7 1138.8,1017.9 1143.6,1015.5 1150,1011.8 1154.8,1008.3 1159.6,1004.3 1165.9,1001.1 1171.5,997.5 1176.3,996 1181.1,996 1185.1,994 1189.9,992.4 1193.9,993.2 1197.9,996.4 1201.1,1001.1 1205.8,1005.1 1210.6,1006.7 1215.4,1006.7 1220.2,1004.8 1225,1004.3 1229.8,1005.1 1234.6,1003.9 1239.4,1001.5 1244.2,1000.3 1249,997.5 1252.1,996 1256.9,997.5 1260.9,1000.3 1264.9,1005.1 1268.9,1009.4 1272.9,1009.1 1276.9,1007.2 1280,1005.9 1285.6,1010.4 1289.6,1009.9 1294.4,1008 1299.2,1006.4 1303.9,1004.7 1310.3,1001.6 1315.1,1001.9 1319.1,1003.9 1323.1,1001.1 1327.9,1001.6 1333.5,1000 1339.9,996.8 1343.9,996.4 1347.8,998.8 1352.6,1001.9 1357.4,1005.5 1361.4,1009.9 1365.4,1010.4 1369.4,1009.4 1374.2,1010.4 1378.2,1011.5 1383,1011.5 1387,1013.9 1391,1017.1 1394.9,1023.5 1398.9,1031.5 1403.7,1039.5 1407.7,1045.8 1410.9,1059.4 1414.9,1067.4 1418.1,1073 1424.5,1076.2 1428.5,1072.7 1433.3,1069 1437.2,1059.4 1441.2,1056.2 1446,1050.6 1450.8,1043.5 1455.6,1038.7 1460.4,1033.1 1465.2,1025.9 1470,1019.5 1474.8,1013.9 1479.6,1007.9 1483.5,1007.5 1487.5,1004.8 1492.3,1001.1 1496.3,998.8 1501.1,997.5 1505.1,996.8 1509.9,994 1513.9,991.3 1517.5,989.7" fill="none" stroke="#2962ff" stroke-width="1.1" stroke-linejoin="round"/>
<polyline points="10.4,1042.2 16,1044.7 22.3,1047.1 28.7,1050.6 35.1,1054.9 41.5,1058.6 47.9,1060.2 54.3,1060.7 60.7,1060.2 67,1058.1 73.4,1055.4 79.8,1053 86.2,1050.6 92.6,1048.2 99,1045.4 105.4,1042.2 111.7,1039.5 118.1,1038.2 124.5,1037.5 130.9,1038.3 137.3,1038.7 143.7,1038.3 150.1,1037.1 156.4,1035.8 162.8,1034.7 167.6,1034.7 174,1035.2 180.4,1036.3 186.8,1037.4 193.2,1037.9 199.6,1037.9 205.9,1038.3 212.3,1038.7 218.7,1038.7 225.1,1037.9 231.5,1036.3 239.5,1034.7 247.4,1032.6 255.4,1030.4 263.4,1028.3 271.4,1026.4 279.4,1025.4 285.8,1024.3 289,1024 293.7,1025.4 298.5,1028.3 302.5,1033.1 306.5,1040.3 310.5,1047.4 314.5,1054.3 318.5,1059.4 324.8,1064.2 329.6,1066.6 334.4,1067.4 340.8,1067.1 346.3,1065.5 351.9,1061.8 358.3,1057.5 364.7,1054.3 372.7,1049.8 380.7,1045 388.6,1039.5 396.6,1033.9 404.6,1028 411,1024.8 417.4,1023.2 425.4,1022.7 433.3,1021.6 441.3,1021.4 447.7,1021.1 454.1,1020.3 460.5,1018.2 468.5,1016 476.4,1013.9 484.4,1012 492.4,1010.4 500.4,1009.4 508.4,1008.3 516.4,1008.8 524.3,1009.4 532.3,1009.4 540.3,1008.3 546.7,1006.7 554.7,1004.7 561.1,1003.9 569,1003.9 577,1004.8 585,1005.5 593,1005.9 601,1006.3 609,1006.3 616.9,1006.4 624.9,1006.3 631.3,1006.7 637.7,1007.9 646.4,1012.3 652.8,1014.4 659.2,1015.5 665.5,1015 671.9,1014.4 679.9,1014.7 687.9,1015.5 695.9,1016 703.9,1016.3 710.2,1019.5 716.6,1023.5 723,1028 729.4,1033.1 735.8,1038.3 742.2,1043.1 748.6,1045.8 754.9,1047 761.3,1048.2 767.7,1051.8 774.1,1056.2 780.5,1061.8 786.9,1066.6 793.3,1071.4 799.6,1077 806,1081.4 812.4,1084.6 818.8,1086.6 823.6,1085.8 830,1082.6 836.4,1077.8 842.7,1074.3 849.1,1071.9 853.9,1071.4 858.7,1073 865.1,1076.7 871.5,1079.7 877.9,1080.7 882.7,1080.7 889,1078.6 895.4,1074.6 901.8,1070.3 909.8,1066.6 917.8,1064.7 925.8,1061.8 933.7,1057.8 940.1,1053.8 946.5,1050.6 952.9,1048.6 959.3,1048.2 966.4,1048.6 972.8,1047.4 980.8,1045 988.7,1042.2 996.7,1039.9 1004.7,1037.5 1012.7,1034.2 1020.7,1030.4 1028.6,1026.7 1036.6,1022.7 1044.6,1019.2 1051,1017.9 1057.4,1017.9 1063.8,1018.2 1071.7,1019.8 1079.7,1023.8 1087.7,1028.3 1094.1,1032.6 1100.5,1036.3 1106.9,1037.9 1113.3,1037.9 1119.6,1036.3 1127.6,1032.3 1135.6,1027.5 1143.6,1023.2 1151.6,1018.7 1159.6,1013.9 1167.5,1009.1 1175.5,1004.8 1183.5,1001.5 1189.9,999.1 1195.5,998 1201.1,998.4 1207.4,1000.3 1213.8,1002.3 1221.8,1003.2 1229.8,1003.5 1237.8,1003.2 1245.8,1001.9 1253.7,1000.3 1260.1,1000 1266.5,1001.6 1272.9,1003.5 1279.3,1004.3 1286.4,1006.4 1292.8,1007.2 1299.2,1007.2 1305.5,1006.3 1311.9,1005.1 1319.9,1004 1327.9,1003.2 1335.9,1001.9 1343.9,1000 1350.2,999.9 1356.6,1000.8 1363,1003.2 1369.4,1005.1 1377.4,1007.1 1383.8,1008 1390.2,1010.4 1394.9,1013.6 1401.3,1019.8 1407.7,1026.7 1412.5,1034.7 1417.3,1042.7 1422.1,1049.8 1426.9,1055.4 1431.7,1059.1 1436.4,1059.9 1441.2,1059.4 1446,1057.5 1452.4,1053.5 1458.8,1048.2 1465.2,1041.9 1471.6,1034.7 1478,1027.5 1484.3,1021.1 1490.7,1015.5 1497.1,1010.4 1503.5,1006.4 1509.9,1003.1 1517.5,999.2" fill="none" stroke="#ff6d00" stroke-width="1.1" stroke-linejoin="round"/>
<line x1="10.5" y1="1130.4" x2="1957.5" y2="1130.4" stroke="#8a8a8a" stroke-width="1" stroke-dasharray="1 2.2"/>
<path d="M61 1130.4L65 1128M65 1128L70.1 1127M70.1 1127L74.2 1126.8M74.2 1126.8L78.2 1129M78.2 1129L82.3 1125.5M82.3 1125.5L87.4 1126.4M87.4 1126.4L91.4 1124.7M91.4 1124.7L95.5 1122.7M95.5 1122.7L99.6 1121.9M99.6 1121.9L103.6 1121.9M103.6 1121.9L107.7 1120.3M107.7 1120.3L111.4 1120.1M111.4 1120.1L115.8 1123.1M115.8 1123.1L119.9 1124.3M119.9 1124.3L124 1125.9M124 1125.9L128.2 1129M128.2 1129L133.1 1123.9M133.1 1123.9L137.2 1123.5M137.2 1123.5L141.2 1121.7M141.2 1121.7L145.3 1122.3M145.3 1122.3L149.4 1120.9M149.4 1120.9L153.4 1120.3M153.4 1120.3L158.1 1122.9M158.1 1122.9L162.2 1121.9M162.2 1121.9L166.6 1125.9M166.6 1125.9L170.7 1127.2M170.7 1127.2L174.8 1128.4M178.8 1130.4L182.9 1127.4M182.9 1127.4L187 1125.5M187 1125.5L191 1124.7M191 1124.7L195.1 1125.5M195.1 1125.5L199.1 1127M199.1 1127L204.2 1128M204.2 1128L209.3 1127.6M209.3 1127.6L215.4 1126.4M215.4 1126.4L221.5 1124.3M221.5 1124.3L228.6 1122.9M228.6 1122.9L233.7 1123.5M233.7 1123.5L238.8 1122.7M238.8 1122.7L245.9 1122.5M245.9 1122.5L251 1120.7M251 1120.7L256 1120.7M256 1120.7L260.1 1121.3M260.1 1121.3L264.2 1120.7M264.2 1120.7L267.8 1118.6M267.8 1118.6L271.9 1120.7M271.9 1120.7L275.8 1123.7M275.8 1123.7L280 1120.3M280 1120.3L284.1 1118.8M284.1 1118.8L288.2 1120.7M343 1132.4L347.5 1128.4M347.5 1128.4L351.6 1123.3M351.6 1123.3L356 1128.8M356 1128.8L359.7 1126.8M363.7 1130L368.8 1124.7M368.8 1124.7L373.9 1122.7M373.9 1122.7L378 1121.7M378 1121.7L381.6 1121.9M381.6 1121.9L385.7 1119.9M385.7 1119.9L389.8 1117.2M389.8 1117.2L394.2 1116.6M394.2 1116.6L398.3 1115.6M398.3 1115.6L402 1111.7M402 1111.7L406.4 1115.2M406.4 1115.2L410 1117.6M410 1117.6L415.1 1119.2M415.1 1119.2L419.1 1120.3M419.1 1120.3L423.2 1118.6M423.2 1118.6L427.9 1114.8M427.9 1114.8L431.9 1116.2M431.9 1116.2L435.8 1118.6M435.8 1118.6L440.1 1125.9M440.1 1125.9L444.1 1118.8M444.1 1118.8L448.6 1117.2M448.6 1117.2L452.7 1118.8M452.7 1118.8L456.7 1117.2M456.7 1117.2L460.8 1116.2M460.8 1116.2L464.9 1118.2M464.9 1118.2L469.3 1117.6M469.3 1117.6L474 1118.6M474 1118.6L478.1 1117.6M478.1 1117.6L482.1 1116.2M482.1 1116.2L486.2 1118.6M486.2 1118.6L490.7 1117.6M490.7 1117.6L494.9 1122.7M494.9 1122.7L499.4 1117.6M499.4 1117.6L503.5 1117.2M503.5 1117.2L507.5 1118.8M507.5 1118.8L511.6 1121.9M511.6 1121.9L515.7 1121.7M515.7 1121.7L519.7 1119.2M519.7 1119.2L524.2 1120.9M524.2 1120.9L528.3 1119.6M528.3 1119.6L532.9 1118.6M532.9 1118.6L537 1116.2M537 1116.2L541.1 1115.2M541.1 1115.2L545.1 1116.2M545.1 1116.2L549.8 1117.6M549.8 1117.6L553.9 1116.8M553.9 1116.8L557.9 1119.2M557.9 1119.2L562 1120.7M562 1120.7L566.5 1120.3M566.5 1120.3L570.5 1120.3M570.5 1120.3L574.6 1120.9M574.6 1120.9L579.1 1123.3M579.1 1123.3L583.1 1120.7M583.1 1120.7L587.2 1119.2M587.2 1119.2L591.9 1119.2M591.9 1119.2L595.9 1121.3M595.9 1121.3L600 1119.6M600 1119.6L604.5 1120.9M604.5 1120.9L608.5 1120.3M608.5 1120.3L612.8 1119.9M612.8 1119.9L617.3 1121.3M617.3 1121.3L621.3 1120.3M621.3 1120.3L625.4 1120.3M625.4 1120.3L629.9 1122.7M629.9 1122.7L633.9 1123.9M633.9 1123.9L638 1123.9M638 1123.9L642.7 1127.4M642.7 1127.4L646.7 1126.8M646.7 1126.8L650.8 1125.3M650.8 1125.3L654.9 1123.9M654.9 1123.9L658.9 1122.7M658.9 1122.7L663.4 1120.7M663.4 1120.7L667.5 1121.7M667.5 1121.7L671.7 1121.9M671.7 1121.9L676.2 1124.7M676.2 1124.7L680.3 1126.4M680.3 1126.4L684.3 1122.7M684.3 1122.7L688.4 1124.9M688.4 1124.9L692.5 1123.3M692.5 1123.3L696.9 1122.7M696.9 1122.7L701 1124.7M701 1124.7L705.1 1125.9M743.3 1130.8L747.3 1128.8M747.3 1128.8L751.4 1128.8M827.1 1131L831.6 1126.8M831.6 1126.8L835.6 1128.4M882 1135.1L886 1128M886 1128L890.1 1128.8M890.1 1128.8L894.6 1126.8M894.6 1126.8L898.6 1125.1M898.6 1125.1L902.9 1129.2M918.6 1130L924 1126.8M924 1126.8L928.1 1128M928.1 1128L932.4 1125.1M932.4 1125.1L936.4 1123.5M936.4 1123.5L940.9 1124.9M940.9 1124.9L945 1125.9M945 1125.9L949.2 1128.8M949.2 1128.8L953.5 1125.9M957.8 1131.4L961.8 1129M961.8 1129L965.9 1127.8M965.9 1127.8L970.4 1123.7M970.4 1123.7L974.4 1123.7M974.4 1123.7L978.9 1123.1M978.9 1123.1L983 1123.7M983 1123.7L987 1123.3M987 1123.3L991.7 1124.9M991.7 1124.9L995.8 1125.7M995.8 1125.7L999.8 1124.1M999.8 1124.1L1004.3 1123.7M1004.3 1123.7L1008.4 1122.3M1008.4 1122.3L1012.4 1121.9M1012.4 1121.9L1016.5 1119.4M1016.5 1119.4L1020.8 1121.3M1020.8 1121.3L1024.8 1118.8M1024.8 1118.8L1029.3 1120.9M1029.3 1120.9L1033.4 1118.6M1033.4 1118.6L1037.8 1118.2M1037.8 1118.2L1041.9 1117.8M1041.9 1117.8L1046 1121.3M1046 1121.3L1050.6 1122.7M1050.6 1122.7L1054.7 1125.3M1054.7 1125.3L1058.8 1124.7M1058.8 1124.7L1062.8 1121.9M1062.8 1121.9L1067.3 1123.7M1067.3 1123.7L1071.4 1124.3M1071.4 1124.3L1076 1128.4M1076 1128.4L1080.1 1129M1080.1 1129L1084.2 1129M1084.2 1129L1087.8 1128.8M1096.4 1135.1L1100.4 1128.8M1100.4 1128.8L1104.5 1127.4M1104.5 1127.4L1109 1125.1M1109 1125.1L1113 1124.1M1113 1124.1L1117.7 1123.5M1117.7 1123.5L1121.8 1123.7M1121.8 1123.7L1126.2 1121.7M1126.2 1121.7L1130.3 1120.9M1130.3 1120.9L1134.6 1120.9M1134.6 1120.9L1138.6 1123.5M1138.6 1123.5L1143.1 1121.7M1143.1 1121.7L1147.2 1120.7M1147.2 1120.7L1151.2 1119.6M1151.2 1119.6L1155.3 1118.6M1155.3 1118.6L1159.8 1117.2M1159.8 1117.2L1163.8 1118.2M1163.8 1118.2L1168.3 1116.6M1168.3 1116.6L1172.6 1116.2M1172.6 1116.2L1176.6 1117M1176.6 1117L1181.1 1118M1181.1 1118L1185.2 1115.8M1185.2 1115.8L1189.4 1115.8M1189.4 1115.8L1193.5 1117.6M1193.5 1117.6L1198 1120.9M1198 1120.9L1201.6 1124.7M1201.6 1124.7L1206.1 1122.3M1206.1 1122.3L1210.2 1122.3M1210.2 1122.3L1214.2 1120.7M1214.2 1120.7L1218.7 1119.4M1218.7 1119.4L1223 1120.7M1223 1120.7L1227 1122.3M1227 1122.3L1230 1121.9M1230 1121.9L1234.1 1120.1M1234.1 1120.1L1239.1 1119.9M1239.1 1119.9L1243.8 1120.9M1243.8 1120.9L1247.9 1119.2M1247.9 1119.2L1251.9 1118.8M1251.9 1118.8L1256.4 1121.9M1256.4 1121.9L1260.5 1123.7M1260.5 1123.7L1264.5 1126.4M1264.5 1126.4L1268.6 1127M1268.6 1127L1273.1 1122.9M1273.1 1122.9L1277.1 1121.7M1277.1 1121.7L1281.2 1122.3M1281.2 1122.3L1285.9 1127.4M1285.9 1127.4L1289.9 1123.7M1289.9 1123.7L1294 1122.3M1294 1122.3L1298.5 1121.7M1298.5 1121.7L1302.5 1121.9M1302.5 1121.9L1306.8 1120.9M1306.8 1120.9L1310.9 1120.3M1310.9 1120.3L1315.3 1122.3M1315.3 1122.3L1319.4 1123.9M1319.4 1123.9L1323.7 1119M1323.7 1119L1328.2 1122.5M1328.2 1122.5L1332.2 1121.1M1332.2 1121.1L1336.3 1120.5M1336.3 1120.5L1340.3 1119.6M1340.3 1119.6L1344.8 1121.7M1344.8 1121.7L1348.9 1124.1M1348.9 1124.1L1353.3 1123.7M1353.3 1123.7L1357.4 1124.7M1357.4 1124.7L1361.7 1127.4M1361.7 1127.4L1365.7 1124.7M1365.7 1124.7L1369.8 1122.9M1369.8 1122.9L1374.3 1124.3M1374.3 1124.3L1378.3 1124.9M1378.3 1124.9L1382.8 1123.7M1382.8 1123.7L1386.9 1125.7M1386.9 1125.7L1390.9 1127.4M1432.8 1132.4L1437.3 1126.8M1441.3 1129.6L1445.8 1127M1445.8 1127L1450.1 1125.3M1450.1 1125.3L1454.1 1125.7M1454.1 1125.7L1458.6 1126.8M1458.6 1126.8L1462.7 1122.7M1462.7 1122.7L1466.7 1120.3M1466.7 1120.3L1471.2 1121.3M1471.2 1121.3L1475.3 1120.9M1475.3 1120.9L1479.5 1119.2M1479.5 1119.2L1483.6 1122.7M1483.6 1122.7L1488.1 1119.9M1488.1 1119.9L1492.1 1118.8M1492.1 1118.8L1496.2 1118.8M1496.2 1118.8L1500.7 1119.2M1500.7 1119.2L1504.7 1118.8M1504.7 1118.8L1509 1117.4M1509 1117.4L1513.5 1116.6M1513.5 1116.6L1517.5 1116.4" stroke="#0fb30f" stroke-width="2.2" fill="none" stroke-linecap="round"/>
<path d="M10.6 1131.4L14.6 1135.5M14.6 1135.5L18.7 1130.8M18.7 1130.8L23.4 1135.5M23.4 1135.5L27.4 1136.9M27.4 1136.9L31.9 1144M31.9 1144L35.6 1141.2M35.6 1141.2L40.6 1138.1M40.6 1138.1L44.7 1135.5M44.7 1135.5L48.8 1132.9M48.8 1132.9L52.8 1132.9M52.8 1132.9L56.9 1131M56.9 1131L61 1130.4M174.8 1128.4L178.8 1130.4M288.2 1120.7L292.6 1134.9M292.6 1134.9L296.7 1134.5M296.7 1134.5L300.8 1143.6M300.8 1143.6L305.2 1158.3M305.2 1158.3L309.5 1149.1M309.5 1149.1L314 1150.7M314 1150.7L318.4 1139M318.4 1139L322.1 1135.9M322.1 1135.9L326.8 1136.9M326.8 1136.9L330.8 1136.9M330.8 1136.9L334.9 1133.5M334.9 1133.5L339 1135.7M339 1135.7L343 1132.4M359.7 1126.8L363.7 1130M705.1 1125.9L709.3 1132.4M709.3 1132.4L713.8 1131.8M713.8 1131.8L717.9 1130M717.9 1130L721.9 1132.4M721.9 1132.4L726.4 1134.1M726.4 1134.1L730.7 1133.5M730.7 1133.5L734.7 1134.9M734.7 1134.9L738.8 1137.5M738.8 1137.5L743.3 1130.8M751.4 1128.8L755.5 1130.4M755.5 1130.4L759.9 1133.1M759.9 1133.1L764 1136.1M764 1136.1L768.3 1139M768.3 1139L772.7 1139M772.7 1139L776.8 1141.2M776.8 1141.2L780.9 1144M780.9 1144L785.3 1136.5M785.3 1136.5L789.4 1137.5M789.4 1137.5L793.7 1142.2M793.7 1142.2L797.7 1147.3M797.7 1147.3L801.8 1141M801.8 1141L806.3 1142.2M806.3 1142.2L810.3 1140.2M810.3 1140.2L814.4 1140.2M814.4 1140.2L818.9 1136.5M818.9 1136.5L823.5 1131.8M823.5 1131.8L827.1 1131M835.6 1128.4L839.7 1132.4M839.7 1132.4L844 1135.7M844 1135.7L848 1131.8M848 1131.8L852.5 1136.5M852.5 1136.5L856.6 1141M856.6 1141L860.6 1143.2M860.6 1143.2L865.1 1141.2M865.1 1141.2L869.2 1142M869.2 1142L873.4 1136.5M873.4 1136.5L877.5 1131.4M877.5 1131.4L882 1135.1M902.9 1129.2L907 1131.4M907 1131.4L911.4 1131.6M911.4 1131.6L915.5 1131.4M915.5 1131.4L918.6 1130M953.5 1125.9L957.8 1131.4M1087.8 1128.8L1092.3 1132.4M1092.3 1132.4L1096.4 1135.1M1390.9 1127.4L1395 1131.4M1395 1131.4L1399.3 1134.1M1399.3 1134.1L1403.7 1133.5M1403.7 1133.5L1407.8 1135.5M1407.8 1135.5L1411.9 1144.6M1411.9 1144.6L1415.9 1139M1415.9 1139L1420.4 1140.2M1420.4 1140.2L1424.5 1135.5M1424.5 1135.5L1428.7 1132.4M1428.7 1132.4L1432.8 1132.4M1437.3 1126.8L1441.3 1129.6" stroke="#ff0a0a" stroke-width="2.2" fill="none" stroke-linecap="round"/>
</g>
<text x="18.1" y="45.9" font-size="12" fill="#434651" stroke="#434651" stroke-width="0.15" textLength="18.8" lengthAdjust="spacingAndGlyphs">SPX</text>
<text x="41.9" y="45.9" font-size="12" fill="#434651" stroke="#434651" stroke-width="0.15" textLength="3.2" lengthAdjust="spacingAndGlyphs" font-weight="bold">·</text>
<text x="49.0" y="45.9" font-size="12" fill="#434651" stroke="#434651" stroke-width="0.15" textLength="20.5" lengthAdjust="spacingAndGlyphs">S&amp;P</text>
<text x="74.0" y="45.9" font-size="12" fill="#434651" stroke="#434651" stroke-width="0.15" textLength="17.9" lengthAdjust="spacingAndGlyphs">500</text>
<text x="96.5" y="45.9" font-size="12" fill="#434651" stroke="#434651" stroke-width="0.15" textLength="3.2" lengthAdjust="spacingAndGlyphs" font-weight="bold">·</text>
<text x="104.6" y="45.9" font-size="12" fill="#434651" stroke="#434651" stroke-width="0.15" textLength="15.4" lengthAdjust="spacingAndGlyphs">1W</text>
<text x="124.5" y="45.9" font-size="12" fill="#434651" stroke="#434651" stroke-width="0.15" textLength="3.2" lengthAdjust="spacingAndGlyphs" font-weight="bold">·</text>
<text x="132.4" y="45.9" font-size="12" fill="#434651" stroke="#434651" stroke-width="0.15" textLength="20.2" lengthAdjust="spacingAndGlyphs">TVC</text>
<text x="160.7" y="45.9" font-size="12" fill="#434651" stroke="#434651" stroke-width="0.15" textLength="7.6" lengthAdjust="spacingAndGlyphs">O</text>
<text x="168.6" y="45.9" font-size="12" fill="#26a69a" stroke="#26a69a" stroke-width="0.15" textLength="43.7" lengthAdjust="spacingAndGlyphs">6 654,28</text>
<text x="219.9" y="45.9" font-size="12" fill="#434651" stroke="#434651" stroke-width="0.15" textLength="6.8" lengthAdjust="spacingAndGlyphs">H</text>
<text x="227.0" y="45.9" font-size="12" fill="#26a69a" stroke="#26a69a" stroke-width="0.15" textLength="43.9" lengthAdjust="spacingAndGlyphs">6 698,88</text>
<text x="278.9" y="45.9" font-size="12" fill="#434651" stroke="#434651" stroke-width="0.15" textLength="6.5" lengthAdjust="spacingAndGlyphs">B</text>
<text x="285.7" y="45.9" font-size="12" fill="#26a69a" stroke="#26a69a" stroke-width="0.15" textLength="43.2" lengthAdjust="spacingAndGlyphs">6 648,07</text>
<text x="337.1" y="45.9" font-size="12" fill="#434651" stroke="#434651" stroke-width="0.15" textLength="6.3" lengthAdjust="spacingAndGlyphs">C</text>
<text x="344.3" y="45.9" font-size="12" fill="#26a69a" stroke="#26a69a" stroke-width="0.15" textLength="43.0" lengthAdjust="spacingAndGlyphs">6 693,75</text>
<text x="396.0" y="45.9" font-size="12" fill="#26a69a" stroke="#26a69a" stroke-width="0.15" textLength="34.1" lengthAdjust="spacingAndGlyphs">+29,39</text>
<text x="435.7" y="45.9" font-size="12" fill="#26a69a" stroke="#26a69a" stroke-width="0.15" textLength="43.8" lengthAdjust="spacingAndGlyphs">(+0,44%)</text>
<line x1="10.5" y1="740.3" x2="2056.5" y2="740.3" stroke="#50535e" stroke-width="1.1"/>
<line x1="10.5" y1="976" x2="2056.5" y2="976" stroke="#50535e" stroke-width="1.1"/>
<line x1="10.5" y1="1105.6" x2="2056.5" y2="1105.6" stroke="#50535e" stroke-width="1.1"/>
<line x1="10.5" y1="1164.4" x2="2056.5" y2="1164.4" stroke="#50535e" stroke-width="1.1"/>
<line x1="1957.5" y1="27.5" x2="1957.5" y2="1207.6" stroke="#50535e" stroke-width="1.1"/>
<text y="712.3" font-size="19.6" fill="#434651" stroke="#434651" stroke-width="0.3"><tspan x="1969.8" textLength="10.4" lengthAdjust="spacingAndGlyphs">2</tspan><tspan> </tspan><tspan x="1983.2" textLength="60.4" lengthAdjust="spacingAndGlyphs">000,00</tspan></text>
<text y="660.5" font-size="19.6" fill="#434651" stroke="#434651" stroke-width="0.3"><tspan x="1969.8" textLength="10.4" lengthAdjust="spacingAndGlyphs">2</tspan><tspan> </tspan><tspan x="1983.2" textLength="60.4" lengthAdjust="spacingAndGlyphs">400,00</tspan></text>
<text y="608.7" font-size="19.6" fill="#434651" stroke="#434651" stroke-width="0.3"><tspan x="1969.8" textLength="10.4" lengthAdjust="spacingAndGlyphs">2</tspan><tspan> </tspan><tspan x="1983.2" textLength="60.4" lengthAdjust="spacingAndGlyphs">800,00</tspan></text>
<text y="556.8" font-size="19.6" fill="#434651" stroke="#434651" stroke-width="0.3"><tspan x="1969.8" textLength="10.4" lengthAdjust="spacingAndGlyphs">3</tspan><tspan> </tspan><tspan x="1983.2" textLength="60.4" lengthAdjust="spacingAndGlyphs">200,00</tspan></text>
<text y="505" font-size="19.6" fill="#434651" stroke="#434651" stroke-width="0.3"><tspan x="1969.8" textLength="10.4" lengthAdjust="spacingAndGlyphs">3</tspan><tspan> </tspan><tspan x="1983.2" textLength="60.4" lengthAdjust="spacingAndGlyphs">600,00</tspan></text>
<text y="453.2" font-size="19.6" fill="#434651" stroke="#434651" stroke-width="0.3"><tspan x="1969.8" textLength="10.4" lengthAdjust="spacingAndGlyphs">4</tspan><tspan> </tspan><tspan x="1983.2" textLength="60.4" lengthAdjust="spacingAndGlyphs">000,00</tspan></text>
<text y="401.4" font-size="19.6" fill="#434651" stroke="#434651" stroke-width="0.3"><tspan x="1969.8" textLength="10.4" lengthAdjust="spacingAndGlyphs">4</tspan><tspan> </tspan><tspan x="1983.2" textLength="60.4" lengthAdjust="spacingAndGlyphs">400,00</tspan></text>
<text y="349.6" font-size="19.6" fill="#434651" stroke="#434651" stroke-width="0.3"><tspan x="1969.8" textLength="10.4" lengthAdjust="spacingAndGlyphs">4</tspan><tspan> </tspan><tspan x="1983.2" textLength="60.4" lengthAdjust="spacingAndGlyphs">800,00</tspan></text>
<text y="297.7" font-size="19.6" fill="#434651" stroke="#434651" stroke-width="0.3"><tspan x="1969.8" textLength="10.4" lengthAdjust="spacingAndGlyphs">5</tspan><tspan> </tspan><tspan x="1983.2" textLength="60.4" lengthAdjust="spacingAndGlyphs">200,00</tspan></text>
<text y="245.9" font-size="19.6" fill="#434651" stroke="#434651" stroke-width="0.3"><tspan x="1969.8" textLength="10.4" lengthAdjust="spacingAndGlyphs">5</tspan><tspan> </tspan><tspan x="1983.2" textLength="60.4" lengthAdjust="spacingAndGlyphs">600,00</tspan></text>
<text y="194.1" font-size="19.6" fill="#434651" stroke="#434651" stroke-width="0.3"><tspan x="1969.8" textLength="10.4" lengthAdjust="spacingAndGlyphs">6</tspan><tspan> </tspan><tspan x="1983.2" textLength="60.4" lengthAdjust="spacingAndGlyphs">000,00</tspan></text>
<text y="142.3" font-size="19.6" fill="#434651" stroke="#434651" stroke-width="0.3"><tspan x="1969.8" textLength="10.4" lengthAdjust="spacingAndGlyphs">6</tspan><tspan> </tspan><tspan x="1983.2" textLength="60.4" lengthAdjust="spacingAndGlyphs">400,00</tspan></text>
<text y="90.4" font-size="19.6" fill="#434651" stroke="#434651" stroke-width="0.3"><tspan x="1969.8" textLength="10.4" lengthAdjust="spacingAndGlyphs">6</tspan><tspan> </tspan><tspan x="1983.2" textLength="60.4" lengthAdjust="spacingAndGlyphs">800,00</tspan></text>
<text x="1970.6" y="766" font-size="19.6" fill="#434651" stroke="#434651" stroke-width="0.3" textLength="48.3" lengthAdjust="spacingAndGlyphs">80,00</text>
<text x="1970.6" y="833" font-size="19.6" fill="#434651" stroke="#434651" stroke-width="0.3" textLength="48.3" lengthAdjust="spacingAndGlyphs">60,00</text>
<text x="1970.6" y="900.1" font-size="19.6" fill="#434651" stroke="#434651" stroke-width="0.3" textLength="48.3" lengthAdjust="spacingAndGlyphs">40,00</text>
<text x="1970.6" y="966.4" font-size="19.6" fill="#434651" stroke="#434651" stroke-width="0.3" textLength="48.3" lengthAdjust="spacingAndGlyphs">20,00</text>
<text x="1970.6" y="999.4" font-size="19.6" fill="#434651" stroke="#434651" stroke-width="0.3" textLength="58.6" lengthAdjust="spacingAndGlyphs">200,00</text>
<text x="1970.6" y="1053.7" font-size="19.6" fill="#434651" stroke="#434651" stroke-width="0.3" textLength="37.8" lengthAdjust="spacingAndGlyphs">0,00</text>
<text x="1970.6" y="1134.9" font-size="19.6" fill="#434651" stroke="#434651" stroke-width="0.3" textLength="37.8" lengthAdjust="spacingAndGlyphs">0,00</text>
<rect x="1961" y="31.1" width="91.7" height="25.8" rx="4.5" fill="#fff" stroke="#e6e8ee" stroke-width="1.2"/>
<text x="1970.5" y="48.6" font-size="11.5" fill="#131722" textLength="20" lengthAdjust="spacingAndGlyphs">USD</text>
<rect x="1912" y="85.2" width="139.9" height="28.7" rx="2" fill="#26a69a"/>
<line x1="1957.5" y1="85.2" x2="1957.5" y2="113.9" stroke="#50535e" stroke-width="1.1"/>
<text x="1918.2" y="106.9" font-size="19.4" fill="#fff" stroke="#fff" stroke-width="0.3" textLength="31.8" lengthAdjust="spacingAndGlyphs">SPX</text>
<text y="105.3" font-size="19.6" fill="#fff" stroke="#fff" stroke-width="0.45"><tspan x="1970.2" textLength="10.6" lengthAdjust="spacingAndGlyphs">6</tspan><tspan> </tspan><tspan x="1983.8" textLength="60.6" lengthAdjust="spacingAndGlyphs">693,75</tspan></text>
<text x="21.7" y="1191.1" font-size="20" fill="#434651" stroke="#434651" stroke-width="0.75" textLength="45.2" lengthAdjust="spacingAndGlyphs">2019</text>
<text x="240.8" y="1191.1" font-size="20" fill="#434651" stroke="#434651" stroke-width="0.75" textLength="45.2" lengthAdjust="spacingAndGlyphs">2020</text>
<text x="459" y="1191.1" font-size="20" fill="#434651" stroke="#434651" stroke-width="0.75" textLength="45.2" lengthAdjust="spacingAndGlyphs">2021</text>
<text x="678.1" y="1191.1" font-size="20" fill="#434651" stroke="#434651" stroke-width="0.75" textLength="45.2" lengthAdjust="spacingAndGlyphs">2022</text>
<text x="896.9" y="1191.1" font-size="20" fill="#434651" stroke="#434651" stroke-width="0.75" textLength="45.2" lengthAdjust="spacingAndGlyphs">2023</text>
<text x="1115.9" y="1191.1" font-size="20" fill="#434651" stroke="#434651" stroke-width="0.75" textLength="45.2" lengthAdjust="spacingAndGlyphs">2024</text>
<text x="1339.1" y="1191.1" font-size="20" fill="#434651" stroke="#434651" stroke-width="0.75" textLength="45.2" lengthAdjust="spacingAndGlyphs">2025</text>
<text x="1557.8" y="1191.1" font-size="20" fill="#434651" stroke="#434651" stroke-width="0.75" textLength="45.2" lengthAdjust="spacingAndGlyphs">2026</text>
<text x="1777" y="1191.1" font-size="20" fill="#434651" stroke="#434651" stroke-width="0.75" textLength="45.2" lengthAdjust="spacingAndGlyphs">2027</text>
<text x="131.8" y="1191.1" font-size="20" fill="#434651" stroke="#434651" stroke-width="0.3" textLength="36.6" lengthAdjust="spacingAndGlyphs">Juill</text>
<text x="354.4" y="1191.1" font-size="20" fill="#434651" stroke="#434651" stroke-width="0.3" textLength="36.6" lengthAdjust="spacingAndGlyphs">Juill</text>
<text x="573.2" y="1191.1" font-size="20" fill="#434651" stroke="#434651" stroke-width="0.3" textLength="36.6" lengthAdjust="spacingAndGlyphs">Juill</text>
<text x="792.1" y="1191.1" font-size="20" fill="#434651" stroke="#434651" stroke-width="0.3" textLength="36.6" lengthAdjust="spacingAndGlyphs">Juill</text>
<text x="1011" y="1191.1" font-size="20" fill="#434651" stroke="#434651" stroke-width="0.3" textLength="36.6" lengthAdjust="spacingAndGlyphs">Juill</text>
<text x="1229.9" y="1191.1" font-size="20" fill="#434651" stroke="#434651" stroke-width="0.3" textLength="36.6" lengthAdjust="spacingAndGlyphs">Juill</text>
<text x="1452.9" y="1191.1" font-size="20" fill="#434651" stroke="#434651" stroke-width="0.3" textLength="36.6" lengthAdjust="spacingAndGlyphs">Juill</text>
<text x="1671.4" y="1191.1" font-size="20" fill="#434651" stroke="#434651" stroke-width="0.3" textLength="36.6" lengthAdjust="spacingAndGlyphs">Juill</text>
<text x="1890" y="1191.1" font-size="20" fill="#434651" stroke="#434651" stroke-width="0.3" textLength="36.6" lengthAdjust="spacingAndGlyphs">Juill</text>
<path d="M11.8 1230.2H24.2V1244.8H17.7V1236.5H11.8z" fill="#e0e0e0"/>
<circle cx="29.2" cy="1232.9" r="2.9" fill="#e0e0e0"/>
<path d="M34.35 1230.2H41.8L36.6 1244.8H29.2z" fill="#e0e0e0"/>
<text x="48.9" y="1244.8" font-size="20" font-weight="bold" fill="#e0e0e0" textLength="121" lengthAdjust="spacingAndGlyphs">TradingView</text>
</svg>
</body></html>
